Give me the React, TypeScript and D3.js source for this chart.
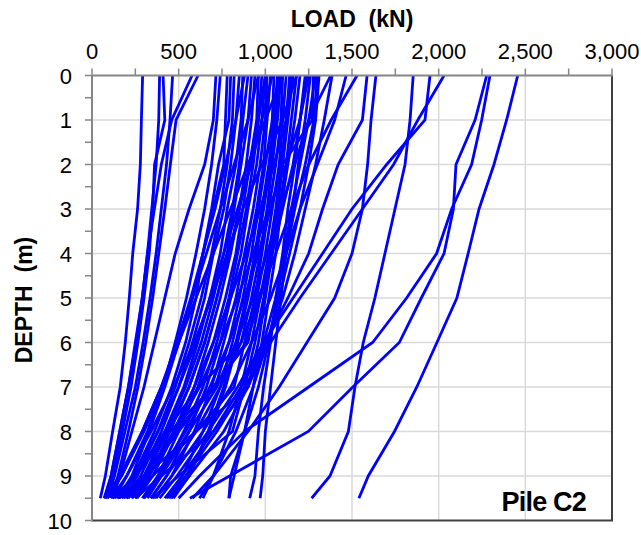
import React from "react";
import * as d3 from "d3";

const depths = [0, 1, 2, 3, 4, 5, 6, 7, 8, 9, 9.5];
const xTicks = [0, 500, 1000, 1500, 2000, 2500, 3000];
const yTicks = [0, 1, 2, 3, 4, 5, 6, 7, 8, 9, 10];

// outer right profiles
const r01 = [2456, 2392, 2319, 2233, 2170, 2105, 1990, 1874, 1745, 1594, 1540];
const r02 = [2277, 2210, 2100, 2085, 2031, 1900, 1773, 1505, 1248, 794, 565];
const r03 = [2296, 2248, 2190, 2075, 1988, 1815, 1619, 1250, 880, 620, 500];
const r04 = [1853, 1835, 1806, 1748, 1690, 1632, 1565, 1517, 1479, 1373, 1267];
const r05 = [2031, 1880, 1740, 1560, 1380, 1200, 1030, 880, 720, 540, 440];
const r06 = [1950, 1921, 1700, 1500, 1330, 1160, 990, 840, 670, 490, 390];
const r07 = [1638, 1610, 1590, 1560, 1500, 1400, 1240, 1080, 900, 700, 580];
const r08 = [1587, 1560, 1420, 1330, 1250, 1130, 1000, 860, 700, 520, 420];
const r09 = [1529, 1380, 1250, 1150, 1060, 960, 860, 740, 600, 430, 340];
const r10 = [1466, 1400, 1300, 1200, 1120, 1030, 920, 800, 640, 460, 360];
const r11 = [1377, 1250, 1170, 1090, 1010, 930, 830, 720, 560, 400, 300];
const r12 = [1385, 1340, 1290, 1230, 1170, 1100, 1010, 900, 760, 560, 450];
const r13 = [1277, 1270, 1100, 1030, 960, 880, 790, 680, 540, 380, 300];

// left profiles
const l01 = [292, 285, 279, 263, 235, 215, 192, 163, 119, 77, 48];
const l02 = [390, 385, 370, 345, 320, 290, 255, 210, 160, 110, 70];
const l03 = [410, 420, 361, 350, 330, 300, 265, 225, 175, 120, 80];
const l04 = [465, 450, 430, 400, 370, 335, 295, 250, 190, 130, 90];
const l05 = [577, 460, 400, 360, 320, 290, 250, 210, 160, 110, 75];
const l06 = [612, 485, 452, 420, 385, 350, 310, 265, 210, 150, 110];
const l07 = [715, 700, 650, 560, 480, 420, 360, 300, 230, 160, 120];

// central bundle
const b01 = [740, 720, 690, 650, 600, 545, 480, 410, 320, 200, 130];
const b02 = [780, 770, 760, 700, 640, 580, 500, 420, 330, 230, 150];
const b03 = [800, 790, 730, 690, 640, 600, 540, 460, 360, 240, 170];
const b04 = [820, 810, 780, 740, 690, 630, 560, 480, 380, 260, 190];
const b05 = [850, 830, 800, 760, 700, 650, 580, 500, 400, 280, 200];
const b06 = [870, 860, 830, 780, 740, 680, 610, 530, 420, 300, 210];
const b07 = [900, 870, 850, 810, 760, 700, 630, 540, 430, 310, 230];
const b08 = [920, 900, 860, 820, 780, 720, 650, 560, 450, 330, 250];
const b09 = [940, 920, 890, 850, 800, 740, 670, 590, 480, 350, 260];
const b10 = [960, 950, 910, 870, 830, 770, 700, 610, 500, 380, 290];
const b11 = [980, 960, 930, 890, 840, 790, 720, 640, 530, 400, 320];
const b12 = [1000, 980, 950, 900, 860, 800, 740, 660, 560, 430, 340];
const b13 = [1010, 1000, 970, 930, 880, 830, 760, 690, 590, 460, 370];
const b14 = [1030, 1010, 990, 950, 900, 850, 790, 710, 480, 300, 150];
const b15 = [1050, 1040, 1000, 960, 920, 870, 810, 740, 640, 520, 430];
const b16 = [1070, 1050, 1020, 980, 940, 890, 830, 760, 670, 560, 470];
const b17 = [1090, 1070, 1040, 1010, 970, 920, 860, 620, 420, 250, 160];
const b18 = [1100, 1090, 1060, 1020, 980, 940, 880, 820, 600, 350, 200];
const b19 = [1120, 1100, 1080, 1040, 1000, 950, 900, 700, 500, 300, 180];
const b20 = [1140, 1120, 1090, 1060, 1020, 970, 920, 860, 790, 700, 640];
const b21 = [1160, 1130, 1100, 1070, 1030, 990, 940, 880, 810, 500, 350];
const b22 = [1180, 1150, 1120, 1080, 1040, 1000, 960, 900, 700, 400, 250];
const b23 = [1200, 1170, 1130, 1090, 1060, 1020, 980, 930, 880, 820, 790];
const b24 = [1240, 1200, 1170, 1130, 1100, 1060, 1030, 990, 960, 940, 910];
const b25 = [1260, 1230, 1190, 1160, 1120, 1090, 1060, 1030, 1000, 985, 970];
const b26 = [1290, 1250, 1200, 1150, 1110, 1070, 1020, 960, 880, 800, 790];
const b27 = [1300, 1280, 1230, 1170, 1120, 1060, 990, 900, 600, 300, 150];
const b28 = [1310, 1290, 1250, 1200, 1140, 1080, 1010, 930, 830, 700, 620];
const b29 = [1100, 1000, 900, 800, 700, 600, 500, 400, 290, 170, 90];
const b30 = [1180, 1100, 980, 870, 780, 690, 590, 470, 340, 200, 110];
const b31 = [960, 900, 820, 740, 660, 580, 500, 410, 300, 170, 80];
const b32 = [1040, 980, 920, 840, 760, 680, 600, 500, 380, 240, 140];
const b33 = [880, 830, 770, 710, 640, 570, 490, 400, 290, 160, 70];
const b34 = [1250, 1200, 1120, 1020, 930, 840, 740, 620, 480, 320, 230];
const b35 = [1150, 1120, 1050, 970, 890, 800, 700, 590, 470, 330, 250];
const b36 = [1000, 960, 910, 850, 790, 720, 650, 560, 440, 300, 200];
const b37 = [1230, 1200, 1160, 1100, 1040, 970, 890, 700, 450, 250, 120];
const b38 = [1080, 1060, 1030, 990, 950, 900, 840, 770, 680, 560, 460];

const series = [
  r01, r02, r03, r04, r05, r06, r07, r08, r09, r10, r11, r12, r13,
  l01, l02, l03, l04, l05, l06, l07,
  b01, b02, b03, b04, b05, b06, b07, b08, b09, b10, b11, b12, b13, b14, b15, b16, b17, b18, b19,
  b20, b21, b22, b23, b24, b25, b26, b27, b28, b29, b30, b31, b32, b33, b34, b35, b36, b37, b38,
];

const W = 641;
const H = 535;
const left = 92;
const right = 612;
const top = 75.5;
const bottom = 520.5;

export default function App() {
  const x = d3.scaleLinear().domain([0, 3000]).range([left, right]);
  const y = d3.scaleLinear().domain([0, 10]).range([top, bottom]);
  const line = d3
    .line<number>()
    .x((v) => x(v))
    .y((_, i) => y(depths[i]));
  const xMinor = d3.range(0, 3001, 250);
  const yMinor = d3.range(0, 10.01, 0.5);
  const fmt = d3.format(",");
  const font = "Arial, 'Liberation Sans', sans-serif";

  return (
    <div style={{ position: "absolute", left: 0, top: 0 }}>
      <svg width={W} height={H} style={{ display: "block" }} fontFamily={font}>
        <rect x={0} y={0} width={W} height={H} fill="#fff" />
        {xTicks.slice(1, -1).map((t) => (
          <line key={"gx" + t} x1={x(t)} x2={x(t)} y1={top} y2={bottom} stroke="#d9d9d9" strokeWidth={1.5} />
        ))}
        {yTicks.slice(1, -1).map((t) => (
          <line key={"gy" + t} x1={left} x2={right} y1={y(t)} y2={y(t)} stroke="#d9d9d9" strokeWidth={1.5} />
        ))}
        <g fill="none" stroke="#0000ff" strokeWidth={2.8} strokeLinejoin="miter">
          {series.map((s, i) => (
            <path key={i} d={line(s) || ""} />
          ))}
        </g>
        <line x1={right} x2={right} y1={top} y2={bottom} stroke="#404040" strokeWidth={2} />
        <line x1={left} x2={right + 1} y1={bottom} y2={bottom} stroke="#404040" strokeWidth={2} />
        <line x1={left} x2={right + 1} y1={top} y2={top} stroke="#868686" strokeWidth={2} />
        <line x1={left} x2={left} y1={top} y2={bottom + 1} stroke="#868686" strokeWidth={2} />
        {xMinor.map((t) => (
          <line key={"tx" + t} x1={x(t)} x2={x(t)} y1={top} y2={top - 7} stroke="#868686" strokeWidth={1.5} />
        ))}
        {yMinor.map((t) => (
          <line key={"ty" + t} x1={left} x2={left - 7} y1={y(t)} y2={y(t)} stroke="#868686" strokeWidth={1.5} />
        ))}
        {xTicks.map((t) => (
          <text key={"lx" + t} x={x(t)} y={59} textAnchor="middle" fontSize={22} fill="#000">
            {fmt(t)}
          </text>
        ))}
        {yTicks.map((t) => (
          <text key={"ly" + t} x={72} y={y(t) + 8} textAnchor="end" fontSize={22} fill="#000">
            {t}
          </text>
        ))}
        <text x={(left + right) / 2} y={27} textAnchor="middle" fontSize={23} fontWeight="bold" style={{ whiteSpace: "pre" }}>
          {"LOAD  (kN)"}
        </text>
        <text
          transform={`translate(32, ${(top + bottom) / 2 + 2}) rotate(-90)`}
          textAnchor="middle"
          fontSize={23}
          fontWeight="bold"
          style={{ whiteSpace: "pre" }}
        >
          {"DEPTH  (m)"}
        </text>
        <text x={586} y={511} textAnchor="end" fontSize={27} fontWeight="bold" letterSpacing={-0.8}>
          Pile C2
        </text>
      </svg>
    </div>
  );
}
